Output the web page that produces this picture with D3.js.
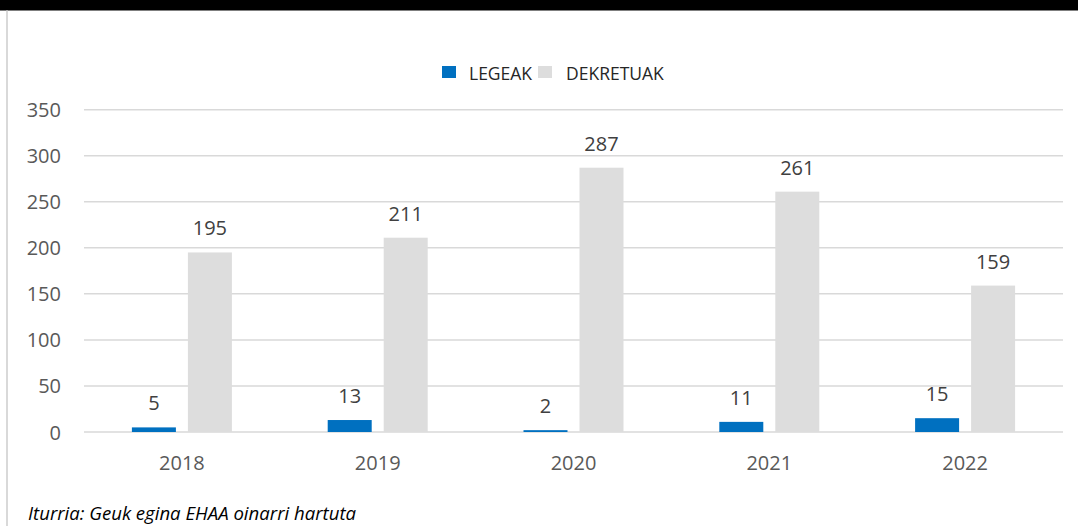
<!DOCTYPE html>
<html>
<head>
<meta charset="utf-8">
<script src="https://cdn.jsdelivr.net/npm/d3@7"></script>
<style>
html, body { margin: 0; padding: 0; background: #fff; }
svg { display: block; font-family: "Open Sans", sans-serif; }
</style>
</head>
<body>
<svg id="chart" width="1078" height="526"></svg>
<script>
const categories = ["2018", "2019", "2020", "2021", "2022"];
const legeak = [5, 13, 2, 11, 15];
const dekretuak = [195, 211, 287, 261, 159];
const yTicks = [0, 50, 100, 150, 200, 250, 300, 350];
const seriesNames = ["LEGEAK", "DEKRETUAK"];
const seriesColors = ["#0070C0", "#DDDDDD"];
const sourceText = "Iturria: Geuk egina EHAA oinarri hartuta";

const svg = d3.select("#chart");
const W = 1078, H = 526;

// header bar and left border
svg.append("rect").attr("x", 0).attr("y", 0).attr("width", W).attr("height", 10.5).attr("fill", "#000");
svg.append("rect").attr("x", 6).attr("y", 10.5).attr("width", 2).attr("height", H - 10.5).attr("fill", "#D9D9D9");

const x = d3.scaleBand().domain(categories).range([84, 1063]);
const y = d3.scaleLinear().domain([0, 350]).range([432, 109.7]);

const barW = 44, off = 28;

// gridlines
svg.append("g").selectAll("line").data(yTicks).join("line")
  .attr("x1", 84).attr("x2", 1063)
  .attr("y1", d => y(d)).attr("y2", d => y(d))
  .attr("stroke", "#D9D9D9").attr("stroke-width", 1.5);

// y axis labels
const yAxis = d3.axisLeft(y).tickValues(yTicks).tickSize(0).tickPadding(0);
const gy = svg.append("g").attr("transform", "translate(61,0)").call(yAxis);
gy.select(".domain").remove();
gy.selectAll("text").attr("font-size", 20).attr("fill", "#595959")
  .attr("font-family", "Open Sans, sans-serif").attr("dy", "0.35em");

// x axis labels
const xAxis = d3.axisBottom(x).tickSize(0).tickPadding(0);
const gx = svg.append("g").attr("transform", "translate(0,470)").call(xAxis);
gx.select(".domain").remove();
gx.selectAll("text").attr("font-size", 20).attr("fill", "#595959")
  .attr("font-family", "Open Sans, sans-serif").attr("dy", 0);

const series = [legeak, dekretuak];
series.forEach((vals, si) => {
  const dx = si === 0 ? -off : off;
  const g = svg.append("g");
  g.selectAll("rect").data(vals).join("rect")
    .attr("x", (d, i) => x(categories[i]) + x.bandwidth() / 2 + dx - barW / 2)
    .attr("y", d => y(d))
    .attr("width", barW)
    .attr("height", d => y(0) - y(d))
    .attr("fill", seriesColors[si]);
  g.selectAll("text").data(vals).join("text")
    .attr("x", (d, i) => x(categories[i]) + x.bandwidth() / 2 + dx)
    .attr("y", d => y(d) - 17)
    .attr("text-anchor", "middle")
    .attr("font-size", 20)
    .attr("fill", "#404040")
    .text(d => d);
});

// legend
const legendItems = [
  { name: seriesNames[0], color: seriesColors[0], sx: 442, tx: 469 },
  { name: seriesNames[1], color: seriesColors[1], sx: 538, tx: 566 }
];
const lg = svg.append("g");
legendItems.forEach(it => {
  lg.append("rect").attr("x", it.sx).attr("y", 66).attr("width", 14).attr("height", 12).attr("fill", it.color);
  lg.append("text").attr("x", it.tx).attr("y", 80).attr("font-size", 17.5).attr("fill", "#262626").text(it.name);
});

// source
svg.append("text").attr("x", 28).attr("y", 520)
  .attr("font-size", 18.6).attr("font-style", "italic").attr("fill", "#000")
  .text(sourceText);
</script>
</body>
</html>
